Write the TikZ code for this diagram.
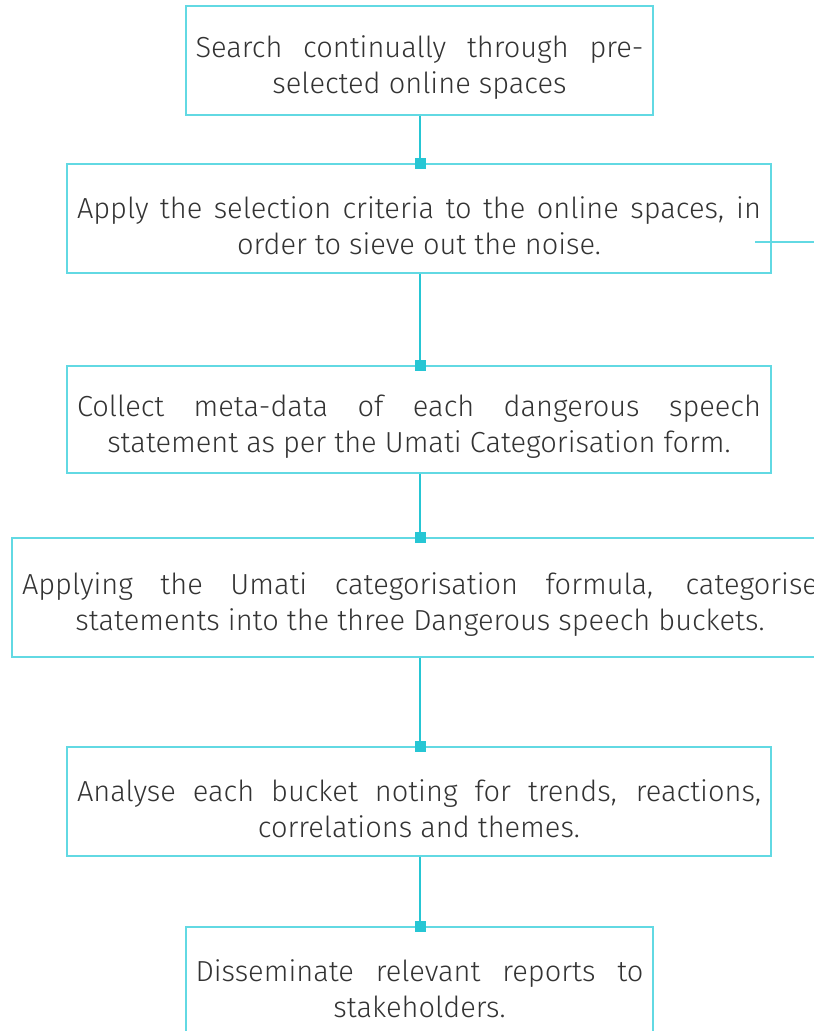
\documentclass[tikz,border=0pt]{standalone}
\usepackage{fontspec}
\setmainfont{Fira Sans Light}
\definecolor{boxc}{HTML}{62D9E3}
\definecolor{conc}{HTML}{26C6D4}
\definecolor{txt}{HTML}{333333}
\newcommand{\lift}{\rule{0pt}{36pt}}
\begin{document}
\begin{tikzpicture}[x=1pt,y=-1pt,
  box/.style={draw=boxc, line width=1.3pt, align=center, inner sep=0pt, text=txt,
    font=\fontsize{29}{36}\selectfont},
  conn/.style={draw=conc, line width=2.6pt},
  sq/.style={fill=conc, inner sep=0pt, minimum size=11pt}]
\clip (0,0) rectangle (814,1031);
\fill[white] (0,0) rectangle (814,1031);
\node[box, minimum width=467pt, minimum height=109pt] (b1) at (419.5,60.5)
  {\lift\makebox[448pt][s]{Search continually through pre-}\\selected online spaces};
\node[box, minimum width=704pt, minimum height=109pt] (b2) at (419,218.5)
  {\lift\makebox[684pt][s]{Apply the selection criteria to the online spaces, in}\\order to sieve out the noise.};
\node[box, minimum width=704pt, minimum height=107pt] (b3) at (419,419.5)
  {\lift\makebox[684pt][s]{Collect meta-data of each dangerous speech}\\statement as per the Umati Categorisation form.};
\node[box, minimum width=816pt, minimum height=119pt] (b4) at (420,597.5)
  {\lift\makebox[796pt][s]{Applying the Umati categorisation formula, categorise}\\statements into the three Dangerous speech buckets.};
\node[box, minimum width=704pt, minimum height=109pt] (b5) at (419,801.5)
  {\lift\makebox[684pt][s]{Analyse each bucket noting for trends, reactions,}\\correlations and themes.};
\node[box, minimum width=467pt, minimum height=109pt] (b6) at (419.5,981.5)
  {\lift\makebox[448pt][s]{Disseminate relevant reports to}\\stakeholders.};
\foreach \a/\b in {b1/b2,b2/b3,b3/b4,b4/b5,b5/b6}{
  \draw[conn] (\a.south -| 420,0) -- (\b.north -| 420,0);
  \node[sq] at (\b.north -| 420,0) {};
}
\coordinate (s1) at (755,242);
\coordinate (s2) at (814,242);
\draw[draw=boxc, line width=1.1pt] (s1) -- (s2);
\end{tikzpicture}
\end{document}
